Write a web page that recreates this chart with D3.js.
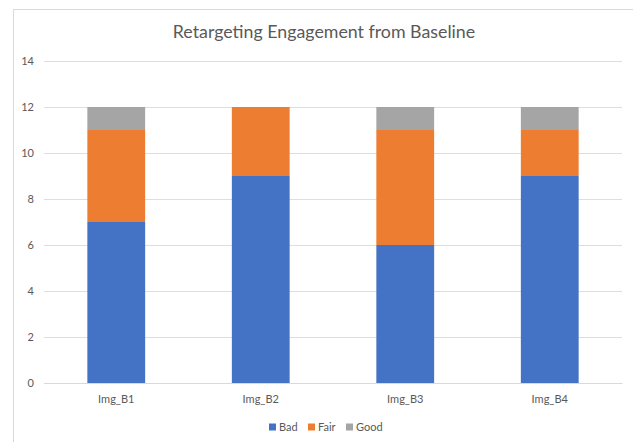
<!DOCTYPE html>
<html><head><meta charset="utf-8">
<script src="https://cdn.jsdelivr.net/npm/d3@7"></script>
<style>body{margin:0;background:#fff;} svg{display:block;font-family:Lato, "Open Sans", sans-serif;}</style>
</head><body>
<svg id="c" width="633" height="442"></svg>
<script>
const title = "Retargeting Engagement from Baseline";
const categories = ["Img_B1", "Img_B2", "Img_B3", "Img_B4"];
const seriesNames = ["Bad", "Fair", "Good"];
const bad = [7, 9, 6, 9];
const fair = [4, 3, 5, 2];
const good = [1, 0, 1, 1];
const yTicks = [0, 2, 4, 6, 8, 10, 12, 14];
const colors = ["#4472C4", "#ED7D31", "#A5A5A5"];

const svg = d3.select("#c");
const W = 633, H = 442;
svg.append("rect").attr("x", 13.5).attr("y", 9.5).attr("width", 640).attr("height", 460)
  .attr("fill", "#fff").attr("stroke", "#d9d9d9").attr("stroke-width", 1);

const m = {left: 44, right: 11, top: 61, bottom: 59};
const x = d3.scaleBand().domain(categories).range([m.left, W - m.right]).paddingInner(0.6).paddingOuter(0.3);
const y = d3.scaleLinear().domain([0, 14]).range([H - m.bottom, m.top]);

const rows = categories.map((c, i) => ({cat: c, Bad: bad[i], Fair: fair[i], Good: good[i]}));
const stacked = d3.stack().keys(seriesNames)(rows);

// grid
const yAxis = d3.axisLeft(y).tickValues(yTicks).tickSize(-(W - m.right - m.left)).tickPadding(10);
const gy = svg.append("g").attr("transform", `translate(${m.left},0)`).call(yAxis);
gy.select(".domain").remove();
gy.selectAll(".tick line").attr("stroke", "#dedede").attr("stroke-width", 1);
gy.selectAll(".tick text").attr("fill", "#595959").attr("font-size", 11).attr("font-family", "Lato, sans-serif");

// bars
svg.append("g").selectAll("g").data(stacked).join("g")
  .attr("fill", (d, i) => colors[i])
  .selectAll("rect").data(d => d).join("rect")
  .attr("x", d => x(d.data.cat))
  .attr("width", x.bandwidth())
  .attr("y", d => y(d[1]))
  .attr("height", d => Math.max(0, y(d[0]) - y(d[1])));

// x axis
const xAxis = d3.axisBottom(x).tickSize(0).tickPadding(12);
const gx = svg.append("g").attr("transform", `translate(0,${y(0)})`).call(xAxis);
gx.select(".domain").attr("stroke", "#d9d9d9");
gx.selectAll(".tick text").attr("fill", "#595959").attr("font-size", 11).attr("font-family", "Lato, sans-serif");

// title
svg.append("text").attr("x", 324).attr("y", 38).attr("text-anchor", "middle")
  .attr("fill", "#595959").attr("font-size", 17.8).text(title);

// legend
const legX = [269, 308, 346];
const lg = svg.append("g").selectAll("g").data(seriesNames).join("g")
  .attr("transform", (d, i) => `translate(${legX[i]},427)`);
lg.append("rect").attr("x", 0).attr("y", -3.5).attr("width", 7).attr("height", 7).attr("fill", (d, i) => colors[i]);
lg.append("text").attr("x", 10).attr("y", 4).attr("fill", "#595959").attr("font-size", 11).text(d => d);
</script>
</body></html>
